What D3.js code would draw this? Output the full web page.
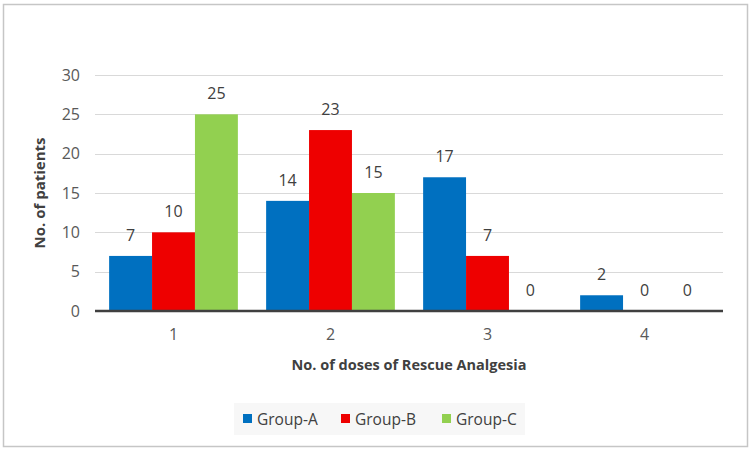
<!DOCTYPE html>
<html>
<head>
<style>
  body { margin: 0; background: #fff; }
  text { font-family: "Open Sans", sans-serif; }
</style>
</head>
<body>
<script src="https://d3js.org/d3.v7.min.js"></script>
<script>

const categories = ['1', '2', '3', '4'];
const groups = ['Group-A', 'Group-B', 'Group-C'];
const groupA = [7, 14, 17, 2];
const groupB = [10, 23, 7, 0];
const groupC = [25, 15, 0, 0];
const yTicks = [0, 5, 10, 15, 20, 25, 30];
const colors = ['#0070c0', '#ee0000', '#92d050'];

const series = [groupA, groupB, groupC];

const width = 750;
const height = 453;

const svg = d3.select('body')
              .append('svg')
              .attr('width', width)
              .attr('height', height);

// outer frame
svg.append('rect')
   .attr('x', 3.5).attr('y', 4.5)
   .attr('width', 744).attr('height', 442)
   .attr('fill', '#fff')
   .attr('stroke', '#c6c6c6')
   .attr('stroke-width', 1.5);

const plot = { left: 95, right: 723, top: 75, bottom: 311 };

const x0 = d3.scaleBand()
             .domain(categories)
             .range([plot.left, plot.right])
             .paddingInner(0.18)
             .paddingOuter(0.09);

const x1 = d3.scaleBand()
             .domain(groups)
             .range([0, x0.bandwidth()]);

const y = d3.scaleLinear()
            .domain([0, 30])
            .range([plot.bottom, plot.top]);

// gridlines
svg.append('g')
   .selectAll('line')
   .data(yTicks.filter(d => d > 0))
   .enter()
   .append('line')
   .attr('x1', plot.left)
   .attr('x2', plot.right)
   .attr('y1', d => Math.round(y(d)) + 0.5)
   .attr('y2', d => Math.round(y(d)) + 0.5)
   .attr('stroke', '#d9d9d9')
   .attr('stroke-width', 1);

// y tick labels
svg.append('g')
   .selectAll('text')
   .data(yTicks)
   .enter()
   .append('text')
   .attr('x', 80)
   .attr('y', d => y(d) + 5.5)
   .attr('text-anchor', 'end')
   .attr('font-size', 16)
   .attr('fill', '#595959')
   .text(d => d);

// bars
const rows = categories.map((c, i) => ({ cat: c, vals: groups.map((g, j) => ({ g, j, v: series[j][i] })) }));

const cat = svg.append('g')
               .selectAll('g')
               .data(rows)
               .enter()
               .append('g')
               .attr('transform', d => `translate(${x0(d.cat)},0)`);

cat.selectAll('rect')
   .data(d => d.vals)
   .enter()
   .append('rect')
   .attr('x', d => x1(d.g))
   .attr('y', d => y(d.v))
   .attr('width', x1.bandwidth())
   .attr('height', d => y(0) - y(d.v))
   .attr('fill', d => colors[d.j]);

cat.selectAll('text')
   .data(d => d.vals)
   .enter()
   .append('text')
   .attr('x', d => x1(d.g) + x1.bandwidth() / 2)
   .attr('y', d => y(d.v) - 15)
   .attr('text-anchor', 'middle')
   .attr('font-size', 16)
   .attr('fill', '#404040')
   .text(d => d.v);

// baseline
svg.append('line')
   .attr('x1', plot.left)
   .attr('x2', plot.right)
   .attr('y1', y(0))
   .attr('y2', y(0))
   .attr('stroke', '#404040')
   .attr('stroke-width', 2.5);

// x tick labels
svg.append('g')
   .selectAll('text')
   .data(categories)
   .enter()
   .append('text')
   .attr('x', d => x0(d) + x0.bandwidth() / 2)
   .attr('y', 340)
   .attr('text-anchor', 'middle')
   .attr('font-size', 16)
   .attr('fill', '#595959')
   .text(d => d);

// axis titles
svg.append('text')
   .attr('x', (plot.left + plot.right) / 2)
   .attr('y', 370)
   .attr('text-anchor', 'middle')
   .attr('font-size', 14.5)
   .attr('font-weight', 'bold')
   .attr('fill', '#404040')
   .text('No. of doses of Rescue Analgesia');

svg.append('text')
   .attr('transform', `translate(45,${(plot.top + plot.bottom) / 2}) rotate(-90)`)
   .attr('text-anchor', 'middle')
   .attr('font-size', 15)
   .attr('font-weight', 'bold')
   .attr('fill', '#404040')
   .text('No. of patients');

// legend
const legend = svg.append('g');
legend.append('rect')
      .attr('x', 234).attr('y', 403)
      .attr('width', 291).attr('height', 32)
      .attr('fill', '#f7f7f7');

const legendX = [243, 341, 442];
const item = legend.selectAll('g.item')
                   .data(groups)
                   .enter()
                   .append('g')
                   .attr('class', 'item')
                   .attr('transform', (d, i) => `translate(${legendX[i]},0)`);

item.append('rect')
    .attr('x', 0).attr('y', 414)
    .attr('width', 9).attr('height', 9)
    .attr('fill', (d, i) => colors[i]);

item.append('text')
    .attr('x', 14)
    .attr('y', 424.5)
    .attr('font-size', 15.5)
    .attr('fill', '#404040')
    .text(d => d);

</script>
</body>
</html>
